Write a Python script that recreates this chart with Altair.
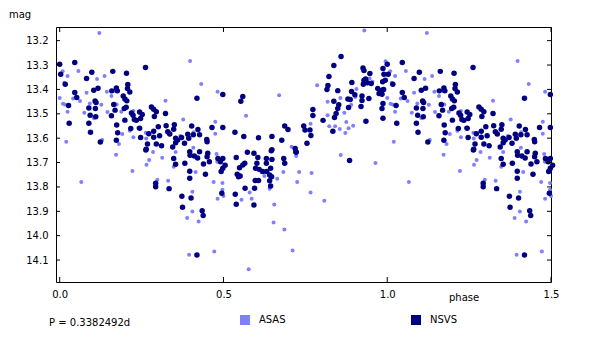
import altair as alt
import pandas as pd

# ---- data (phase 0..1; phases <= 0.5 are repeated at +1) ----
asas_phase = [0.121, 0.009, 0.057, 0.024, 0.114, 0.137, 0.000, 0.014, 0.082, 0.144,
              0.169, 0.158, 0.041, 0.062, 0.010, 0.016, 0.127, 0.092, 0.024, 0.075,
              0.146, 0.188, 0.174, 0.104, 0.225, 0.323, 0.398, 0.214, 0.191, 0.225,
              0.181, 0.130, 0.020, 0.240, 0.263, 0.264, 0.377, 0.409, 0.368, 0.408,
              0.172, 0.066, 0.222, 0.265, 0.273, 0.285, 0.313, 0.354, 0.348, 0.353,
              0.298, 0.331, 0.405, 0.405, 0.389, 0.424, 0.395, 0.415, 0.432, 0.482,
              0.475, 0.475, 0.569, 0.670, 0.708, 0.766, 0.786, 0.818, 0.818, 0.823,
              0.841, 0.855, 0.857, 0.869, 0.872, 0.875, 0.882, 0.896, 0.890, 0.903,
              0.906, 0.930, 0.946, 0.955, 0.995, 0.470, 0.482, 0.479, 0.497, 0.497,
              0.500, 0.472, 0.555, 0.580, 0.586, 0.577, 0.616, 0.625, 0.641, 0.655,
              0.664, 0.653, 0.686, 0.683, 0.711, 0.722, 0.725, 0.731, 0.766, 0.769,
              0.808, 0.858, 0.964, 0.481]
asas_mag = [13.169, 13.326, 13.324, 13.345, 13.357, 13.345, 13.435, 13.373, 13.414, 13.410,
            13.406, 13.427, 13.437, 13.448, 13.459, 13.462, 13.463, 13.458, 13.492, 13.496,
            13.493, 13.492, 13.462, 13.517, 13.489, 13.447, 13.283, 13.570, 13.583, 13.596,
            13.624, 13.608, 13.615, 13.557, 13.578, 13.601, 13.523, 13.576, 13.591, 13.639,
            13.668, 13.780, 13.735, 13.709, 13.690, 13.657, 13.680, 13.657, 13.717, 13.709,
            13.771, 13.775, 13.820, 13.901, 13.927, 13.942, 14.078, 13.739, 13.378, 13.410,
            13.533, 13.582, 13.508, 13.424, 13.635, 13.541, 13.383, 13.451, 13.506, 13.551,
            13.551, 13.562, 13.435, 13.496, 13.579, 13.534, 13.559, 13.549, 13.463, 13.431,
            13.398, 13.158, 13.355, 13.369, 13.285, 13.780, 13.848, 13.665, 13.784, 13.812,
            13.837, 14.065, 13.853, 13.823, 13.848, 14.138, 13.739, 13.755, 13.808, 13.872,
            13.766, 13.946, 13.975, 13.739, 14.061, 13.673, 13.780, 13.739, 13.823, 13.743,
            13.857, 13.669, 13.702, 13.697]

nsvs_phase = [0.000, 0.003, 0.017, 0.046, 0.098, 0.082, 0.162, 0.204, 0.262, 0.046,
              0.052, 0.027, 0.029, 0.104, 0.117, 0.108, 0.111, 0.089, 0.093, 0.110,
              0.089, 0.094, 0.124, 0.159, 0.173, 0.176, 0.165, 0.169, 0.158, 0.208,
              0.207, 0.214, 0.194, 0.199, 0.205, 0.203, 0.197, 0.199, 0.174, 0.177,
              0.173, 0.219, 0.224, 0.244, 0.252, 0.228, 0.234, 0.247, 0.244, 0.247,
              0.280, 0.287, 0.289, 0.295, 0.272, 0.287, 0.301, 0.287, 0.295, 0.268,
              0.264, 0.305, 0.311, 0.325, 0.330, 0.336, 0.350, 0.348, 0.354, 0.345,
              0.354, 0.372, 0.381, 0.394, 0.403, 0.408, 0.419, 0.217, 0.422, 0.263,
              0.348, 0.354, 0.382, 0.397, 0.398, 0.411, 0.421, 0.397, 0.397, 0.293,
              0.293, 0.334, 0.373, 0.401, 0.375, 0.419, 0.427, 0.452, 0.457, 0.450,
              0.483, 0.498, 0.491, 0.498, 0.493, 0.445, 0.439, 0.505, 0.435, 0.438,
              0.495, 0.536, 0.539, 0.539, 0.542, 0.546, 0.551, 0.549, 0.559, 0.565,
              0.566, 0.573, 0.593, 0.605, 0.602, 0.597, 0.607, 0.598, 0.609, 0.620,
              0.595, 0.593, 0.631, 0.648, 0.646, 0.632, 0.641, 0.647, 0.641, 0.644,
              0.684, 0.687, 0.721, 0.885, 0.427, 0.449, 0.450, 0.465, 0.498, 0.498,
              0.535, 0.553, 0.559, 0.562, 0.607, 0.648, 0.678, 0.687, 0.697, 0.648,
              0.719, 0.722, 0.745, 0.749, 0.764, 0.767, 0.755, 0.773, 0.773, 0.804,
              0.816, 0.819, 0.822, 0.837, 0.859, 0.837, 0.834, 0.839, 0.844, 0.849,
              0.852, 0.849, 0.880, 0.882, 0.887, 0.891, 0.892, 0.901, 0.920, 0.923,
              0.923, 0.926, 0.929, 0.929, 0.927, 0.934, 0.939, 0.947, 0.951, 0.935,
              0.944, 0.971, 0.975, 0.979, 0.987, 0.990, 0.994, 0.986, 0.984, 0.987,
              0.984, 0.987, 0.984, 0.989, 0.631, 0.644, 0.391, 0.360, 0.323, 0.109]
nsvs_mag = [13.297, 13.338, 13.379, 13.290, 13.330, 13.355, 13.326, 13.334, 13.310, 13.413,
            13.433, 13.466, 13.539, 13.403, 13.395, 13.448, 13.454, 13.476, 13.506, 13.512,
            13.539, 13.576, 13.616, 13.406, 13.394, 13.406, 13.462, 13.485, 13.508, 13.380,
            13.396, 13.411, 13.427, 13.439, 13.447, 13.473, 13.478, 13.526, 13.546, 13.578,
            13.609, 13.497, 13.506, 13.493, 13.503, 13.523, 13.527, 13.519, 13.559, 13.597,
            13.472, 13.481, 13.511, 13.492, 13.582, 13.572, 13.553, 13.596, 13.624, 13.624,
            13.645, 13.590, 13.631, 13.549, 13.574, 13.583, 13.545, 13.563, 13.600, 13.636,
            13.619, 13.597, 13.621, 13.600, 13.550, 13.586, 13.436, 13.560, 13.564, 13.649,
            13.683, 13.707, 13.703, 13.656, 13.670, 13.673, 13.681, 13.736, 13.764, 13.785,
            13.799, 13.807, 13.838, 13.845, 13.883, 14.079, 13.656, 13.662, 13.697, 13.676,
            13.683, 13.683, 13.697, 13.723, 13.737, 13.748, 13.706, 13.711, 13.898, 13.917,
            13.826, 13.830, 13.871, 13.679, 13.748, 13.758, 13.755, 13.721, 13.710, 13.703,
            13.805, 13.658, 13.662, 13.679, 13.703, 13.774, 13.774, 13.723, 13.728, 13.737,
            13.805, 13.874, 13.683, 13.687, 13.652, 13.737, 13.751, 13.758, 13.775, 13.796,
            13.683, 13.703, 13.656, 13.692, 13.586, 13.605, 13.615, 13.556, 13.421, 13.556,
            13.576, 13.449, 13.429, 13.593, 13.598, 13.593, 13.609, 13.550, 13.564, 13.647,
            13.642, 13.658, 13.550, 13.567, 13.566, 13.589, 13.621, 13.482, 13.507, 13.527,
            13.400, 13.384, 13.347, 13.302, 13.265, 13.449, 13.572, 13.515, 13.499, 13.478,
            13.463, 13.405, 13.439, 13.474, 13.441, 13.409, 13.372, 13.422, 13.470, 13.427,
            13.445, 13.312, 13.322, 13.362, 13.379, 13.357, 13.373, 13.335, 13.376, 13.531,
            13.437, 13.396, 13.417, 13.406, 13.314, 13.338, 13.362, 13.369, 13.403, 13.458,
            13.478, 13.518, 13.420, 13.400, 13.703, 13.723, 13.584, 13.608, 13.499, 13.478]

y_ticks = [13.2, 13.3, 13.4, 13.5, 13.6, 13.7, 13.8, 13.9, 14.0, 14.1]
x_ticks = [0.0, 0.5, 1.0, 1.5]
series_names = ["ASAS", "NSVS"]
series_colors = ["#8080ff", "#000080"]
y_title = "mag"
x_title = "phase"
period_text = "P = 0.3382492d"

FONT = "DejaVu Sans"


def build(phases, mags, name):
    rows = []
    for p, m in zip(phases, mags):
        rows.append({"phase": p, "mag": m, "src": name})
        if p + 1 <= 1.505:
            rows.append({"phase": p + 1, "mag": m, "src": name})
    return pd.DataFrame(rows)


asas_df = build(asas_phase, asas_mag, series_names[0])
nsvs_df = build(nsvs_phase, nsvs_mag, series_names[1])

xs = alt.Scale(domain=[-0.0113, 1.5], nice=False, zero=False)
ys = alt.Scale(domain=[13.144, 14.19], reverse=True, nice=False, zero=False)
cs = alt.Scale(domain=series_names, range=series_colors)

x_axis = alt.Axis(values=x_ticks, format=".1f", ticks=False, domain=False, grid=False,
                  title=None, labelPadding=7, labelFont=FONT, labelFontSize=10,
                  labelColor="black", labelOverlap=False, labelFlush=False,
                  labelBound=False, labelSeparation=0)
y_axis = alt.Axis(values=y_ticks, format=".1f", ticks=False, domain=False, grid=False,
                  title=None, labelPadding=8, labelFont=FONT, labelFontSize=10,
                  labelColor="black", labelOverlap=False, labelFlush=False,
                  labelBound=False, labelSeparation=0)

X = lambda: alt.X("phase:Q", scale=xs, axis=x_axis)
Y = lambda: alt.Y("mag:Q", scale=ys, axis=y_axis)

legend = alt.Legend(title=None, orient="none", legendX=184, legendY=288,
                    direction="horizontal", symbolType="square", symbolSize=100,
                    symbolStrokeWidth=0, symbolOpacity=1, labelFont=FONT,
                    labelFontSize=10, labelColor="black", labelOffset=9,
                    columnPadding=125, padding=0)

asas = alt.Chart(asas_df).mark_circle(size=16, opacity=1).encode(
    x=X(), y=Y(), color=alt.Color("src:N", scale=cs, legend=legend),
)
nsvs = alt.Chart(nsvs_df).mark_circle(size=30, opacity=1).encode(
    x=X(), y=Y(), color=alt.Color("src:N", scale=cs, legend=legend),
)

ytick_df = pd.DataFrame({"mag": y_ticks})
xtick_df = pd.DataFrame({"phase": x_ticks})

left_ticks = alt.Chart(ytick_df).mark_rule(color="black", strokeWidth=1).encode(
    y=Y(), x=alt.value(0), x2=alt.value(4))
right_ticks = alt.Chart(ytick_df).mark_rule(color="black", strokeWidth=1).encode(
    y=Y(), x=alt.value(491), x2=alt.value(495))
bottom_ticks = alt.Chart(xtick_df).mark_rule(color="black", strokeWidth=1).encode(
    x=X(), y=alt.value(250), y2=alt.value(255))
top_ticks = alt.Chart(xtick_df).mark_rule(color="black", strokeWidth=1).encode(
    x=X(), y=alt.value(0), y2=alt.value(5))


def label(txt, x, y):
    return alt.Chart(pd.DataFrame({"t": [txt]})).mark_text(
        align="left", baseline="alphabetic", font=FONT, fontSize=10, color="black"
    ).encode(text="t:N", x=alt.value(x), y=alt.value(y))


chart = alt.layer(
    asas, nsvs, left_ticks, right_ticks, bottom_ticks, top_ticks,
    label(y_title, -47, -9), label(x_title, 393, 274), label(period_text, -7, 299),
).properties(
    width=495, height=255,
    autosize=alt.AutoSizeParams(type="none"),
    padding={"left": 48, "top": 19, "right": 41, "bottom": 48},
    background="white",
).configure_view(stroke="black", strokeWidth=1)

chart.save("out.html", embed_options={"renderer": "svg", "actions": False})
